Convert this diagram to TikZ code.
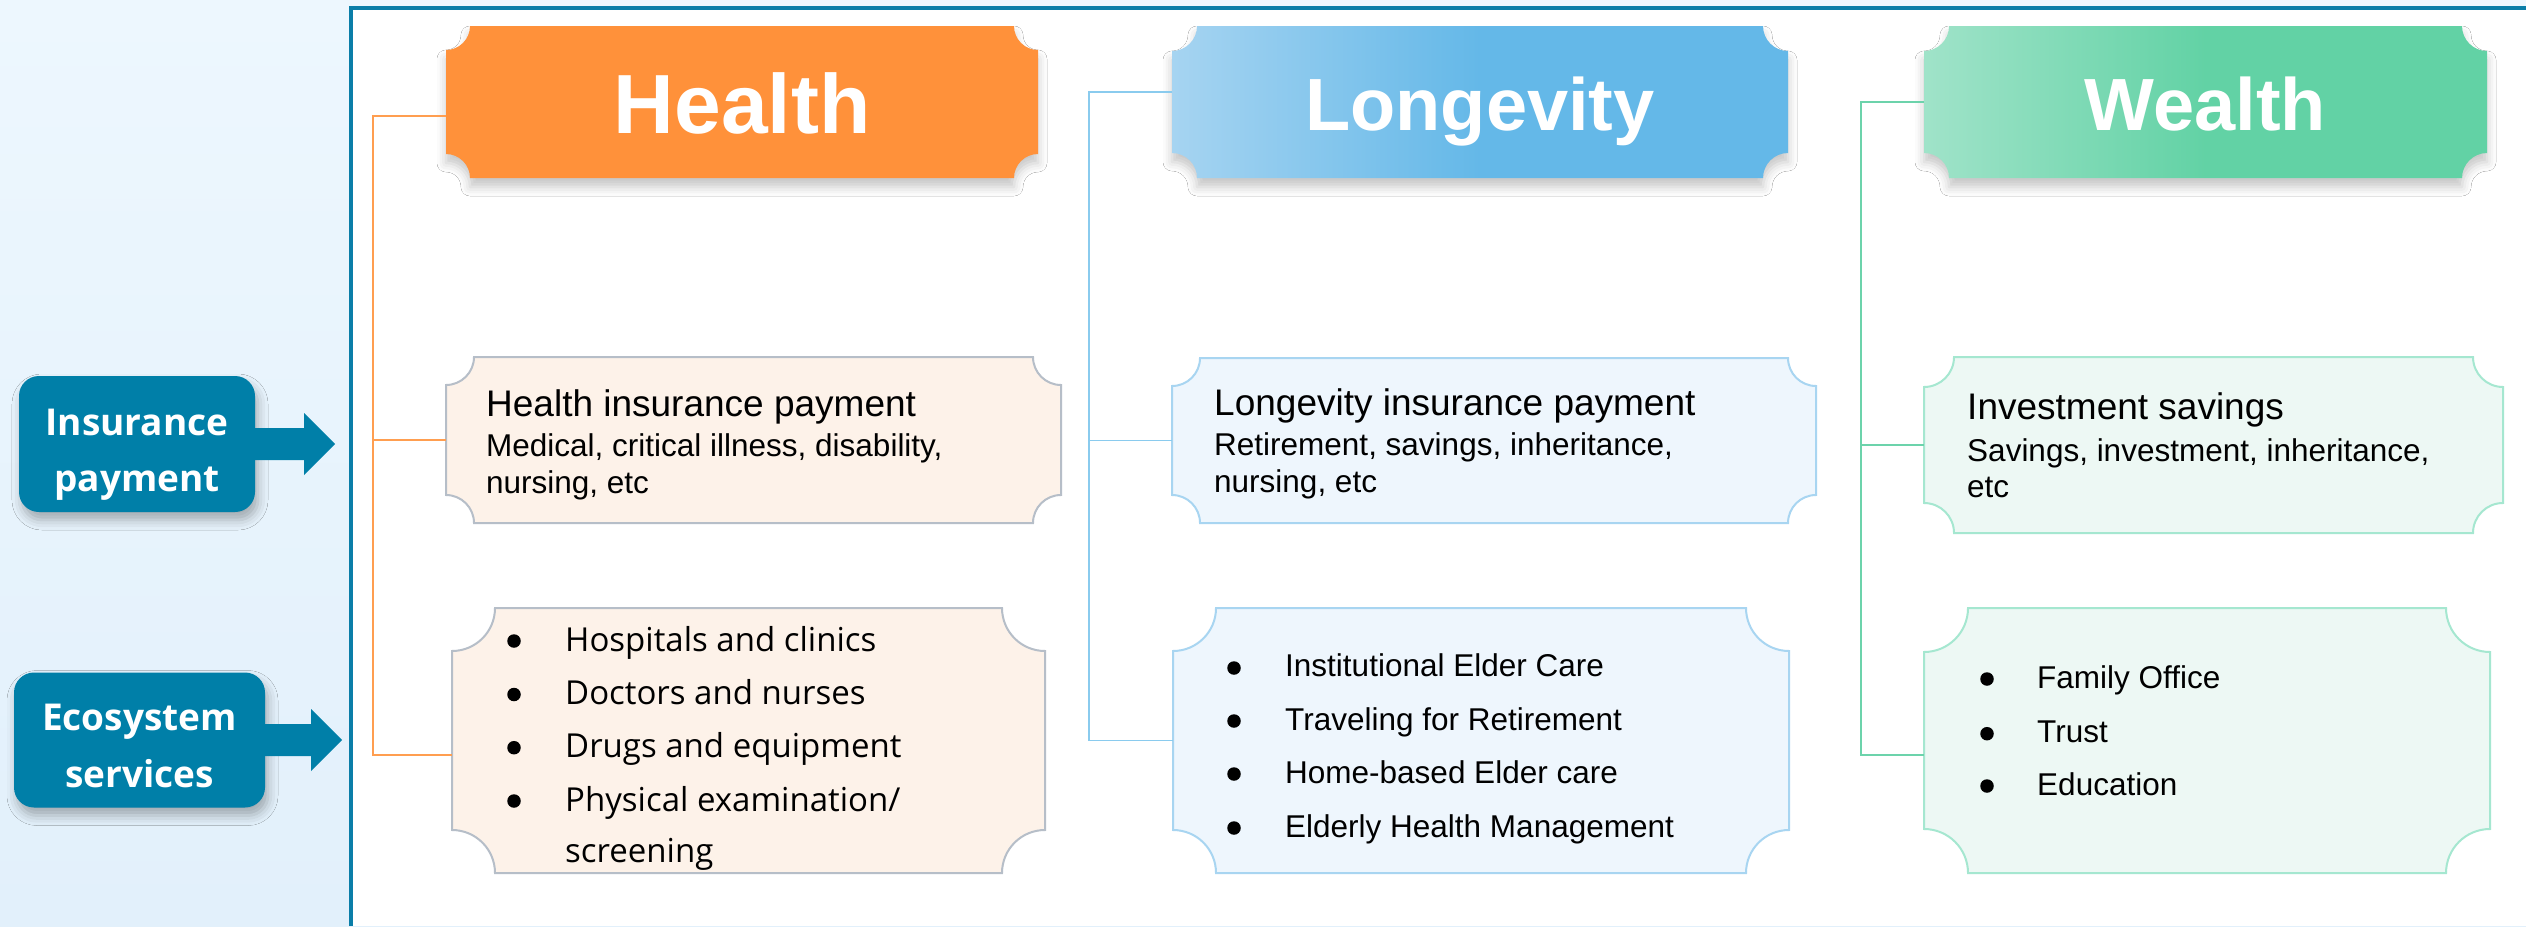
\documentclass[tikz,border=0pt]{standalone}
\usepackage{fontspec}
\setmainfont{Liberation Sans}
\newfontfamily\osans{Open Sans}
\usetikzlibrary{calc,shadows.blur}
\definecolor{framec}{HTML}{0A7EA8}
\definecolor{lblc}{HTML}{007FA8}
\definecolor{bgA}{HTML}{EDF7FE}
\definecolor{bgB}{HTML}{E2F0FB}
\definecolor{horange}{HTML}{FF913A}
\definecolor{hfill}{HTML}{FDF2E9}
\definecolor{hborder}{HTML}{B6BEC8}
\definecolor{lA}{HTML}{A6D4F1}
\definecolor{lB}{HTML}{64B8E8}
\definecolor{lfill}{HTML}{EEF6FD}
\definecolor{lborder}{HTML}{A8D5F1}
\definecolor{wA}{HTML}{A0E3C9}
\definecolor{wB}{HTML}{62D2A5}
\definecolor{wfill}{HTML}{EDF8F4}
\definecolor{wborder}{HTML}{A5E7D0}
\definecolor{hlinec}{HTML}{FF9E50}
\definecolor{llinec}{HTML}{8ACBEE}
\definecolor{wlinec}{HTML}{6CD3AB}
\newcommand\notchbox[3]{%
  \path[#3] ([xshift=#2]#1.north west) -- ([xshift=-#2]#1.north east)
    arc[start angle=180,end angle=270,radius=#2]
    -- ([yshift=#2]#1.south east)
    arc[start angle=90,end angle=180,radius=#2]
    -- ([xshift=#2]#1.south west)
    arc[start angle=0,end angle=90,radius=#2]
    -- ([yshift=-#2]#1.north west)
    arc[start angle=270,end angle=360,radius=#2] -- cycle;}
\begin{document}
\begin{tikzpicture}[x=1pt,y=-1pt,
  box/.style={rectangle,draw=none,fill=none,inner sep=0pt,outer sep=0pt},
  hdr/.style={box,minimum height=152pt},
  htxt/.style={anchor=base,inner sep=0pt,text=white,font=\bfseries\fontsize{74}{80}\selectfont},
  hshadow/.style={blur shadow={shadow xshift=0pt,shadow yshift=-9pt,shadow blur radius=9pt,shadow opacity=22}},
  ttl/.style={anchor=base west,inner sep=0pt,font=\fontsize{37}{44}\selectfont},
  sub/.style={anchor=base west,inner sep=0pt,font=\fontsize{31.5}{38}\selectfont},
  hli/.style={anchor=base west,inner sep=0pt,font=\osans\fontsize{33}{40}\selectfont},
  bul/.style={circle,fill=black,inner sep=0pt,minimum size=13.5pt},
  lbl/.style={rectangle,rounded corners=20pt,fill=lblc,inner sep=0pt,
    blur shadow={shadow xshift=3pt,shadow yshift=-8pt,shadow blur radius=10pt,shadow opacity=30}},
  lbltxt/.style={anchor=base,inner sep=0pt,text=white,font=\osans\bfseries\fontsize{37}{44}\selectfont},
  hl/.style={draw=hlinec,line width=1.5pt},
  ll/.style={draw=llinec,line width=1.5pt},
  wl/.style={draw=wlinec,line width=1.5pt}]
\useasboundingbox (0,0) rectangle (2526,926);
% background and frame
\fill[top color=bgA,bottom color=bgB] (0,0) rectangle (2526,926);
\fill[white] (351,8) rectangle (2526,926);
\draw[framec,line width=4pt] (351,926) -- (351,8) -- (2526,8);

% header and box nodes (shapes drawn below)
\node[hdr,minimum width=592pt] (health) at (742,102) {};
\node[hdr,minimum width=616pt] (lon) at (1480,102) {};
\node[hdr,minimum width=563pt] (wea) at (2205.5,102) {};
\node[box,minimum width=615pt,minimum height=166pt] (hins) at (753.5,440) {};
\node[box,minimum width=593pt,minimum height=265pt] (hsv) at (748.5,740.5) {};
\node[box,minimum width=644pt,minimum height=165pt] (lins) at (1494,440.5) {};
\node[box,minimum width=616pt,minimum height=265pt] (lsv) at (1481,740.5) {};
\node[box,minimum width=579pt,minimum height=176pt] (wins) at (2213.5,445) {};
\node[box,minimum width=566pt,minimum height=265pt] (wsv) at (2207,740.5) {};

\notchbox{health}{24pt}{fill=horange,hshadow}
\notchbox{lon}{25pt}{left color=lA,right color=lB,middle color=lB,hshadow}
\notchbox{wea}{25pt}{left color=wA,right color=wB,middle color=wB,hshadow}
\notchbox{hins}{28pt}{fill=hfill,draw=hborder,line width=2pt}
\notchbox{hsv}{43pt}{fill=hfill,draw=hborder,line width=2pt}
\notchbox{lins}{28pt}{fill=lfill,draw=lborder,line width=2pt}
\notchbox{lsv}{43pt}{fill=lfill,draw=lborder,line width=2pt}
\notchbox{wins}{30pt}{fill=wfill,draw=wborder,line width=2pt}
\notchbox{wsv}{44pt}{fill=wfill,draw=wborder,line width=2pt}

% header texts
\node[htxt,font=\bfseries\fontsize{84}{90}\selectfont] (healthT) at (742,133) {Health};
\node[htxt] (lonT) at (1480,130) {Longevity};
\node[htxt] (weaT) at (2205.5,130) {Wealth};

% texts health
\node[ttl] (hinsA) at (486,416) {Health insurance payment};
\node[sub] (hinsB) at (486,456.5) {Medical, critical illness, disability,};
\node[sub] (hinsC) at (486,493) {nursing, etc};
\node[bul] (hb1) at (514,641) {};
\node[hli] (hl1) at (565,651) {Hospitals and clinics};
\node[bul] (hb2) at (514,694.5) {};
\node[hli] (hl2) at (565,704.5) {Doctors and nurses};
\node[bul] (hb3) at (514,747.7) {};
\node[hli] (hl3) at (565,757.7) {Drugs and equipment};
\node[bul] (hb4) at (514,801) {};
\node[hli] (hl4) at (565,811) {Physical examination/};
\node[hli] (hl5) at (565,862) {screening};

% texts longevity
\node[ttl] (linsA) at (1214,415) {Longevity insurance payment};
\node[sub] (linsB) at (1214,455) {Retirement, savings, inheritance,};
\node[sub] (linsC) at (1214,492) {nursing, etc};
\node[bul] (lb1) at (1234,668) {};
\node[sub] (ll1) at (1285,676.7) {Institutional Elder Care};
\node[bul] (lb2) at (1234,721) {};
\node[sub] (ll2) at (1285,730) {Traveling for Retirement};
\node[bul] (lb3) at (1234,774) {};
\node[sub] (ll3) at (1285,783) {Home-based Elder care};
\node[bul] (lb4) at (1234,828) {};
\node[sub] (ll4) at (1285,837) {Elderly Health Management};

% texts wealth
\node[ttl] (winsA) at (1967,419) {Investment savings};
\node[sub] (winsB) at (1967,461) {Savings, investment, inheritance,};
\node[sub] (winsC) at (1967,497) {etc};
\node[bul] (wb1) at (1987,679) {};
\node[sub] (wl1) at (2037,688) {Family Office};
\node[bul] (wb2) at (1987,733.7) {};
\node[sub] (wl2) at (2037,742.7) {Trust};
\node[bul] (wb3) at (1987,786) {};
\node[sub] (wl3) at (2037,795) {Education};

% connectors
\coordinate (ht) at (373,116);
\draw[hl] ([yshift=-14pt]health.west) -- (ht) |- ([yshift=-14.5pt]hsv.west);
\draw[hl] (ht |- hins.west) -- (hins.west);
\coordinate (lt) at (1089,92);
\draw[ll] ([yshift=10pt]lon.west) -- (lt) |- (lsv.west);
\draw[ll] (lt |- lins.west) -- (lins.west);
\coordinate (wt) at (1861,102);
\draw[wl] (wea.west) -- (wt) |- ([yshift=-14.5pt]wsv.west);
\draw[wl] (wt |- wins.west) -- (wins.west);

% left labels
\node[lbl,minimum width=236pt,minimum height=136pt] (ins) at (137,444) {};
\node[lbl,minimum width=251pt,minimum height=135pt] (eco) at (139.5,740) {};
\fill[lblc] ([yshift=16pt]ins.east) -- ++(49pt,0pt) -- ++(0pt,15pt) -- ++(31pt,-31pt)
  -- ++(-31pt,-31pt) -- ++(0pt,15pt) -- ++(-49pt,0pt) -- cycle;
\fill[lblc] ([yshift=16pt]eco.east) -- ++(46pt,0pt) -- ++(0pt,15pt) -- ++(31pt,-31pt)
  -- ++(-31pt,-31pt) -- ++(0pt,15pt) -- ++(-46pt,0pt) -- cycle;
\node[lbltxt] (insA) at (137,435) {Insurance};
\node[lbltxt] (insB) at (137,491) {payment};
\node[lbltxt] (ecoA) at (139.5,730) {Ecosystem};
\node[lbltxt] (ecoB) at (139.5,787) {services};
\end{tikzpicture}
\end{document}
